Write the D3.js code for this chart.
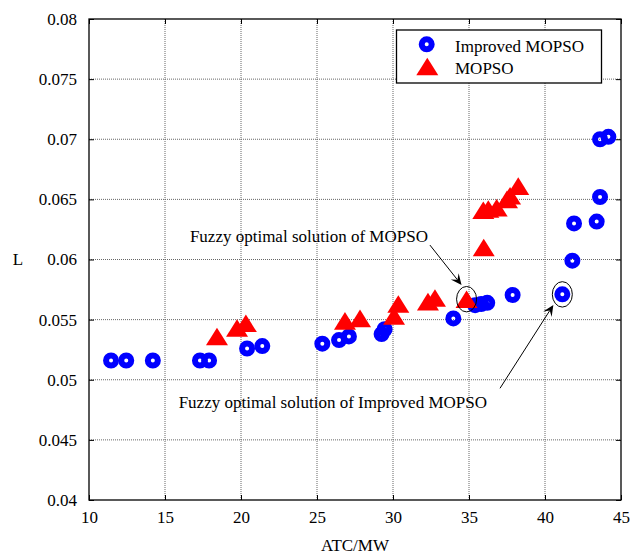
<!DOCTYPE html>
<html><head><meta charset="utf-8">
<script src="https://cdn.jsdelivr.net/npm/d3@7"></script>
<style>
html,body{margin:0;padding:0;background:#fff;}
text{font-family:"Liberation Serif","Times New Roman",serif;fill:#000;}
</style></head>
<body><svg id="c" width="630" height="558"></svg>
<script>
// ---- data ----
const improvedX = [11.45,12.45,14.2,17.3,17.9,20.4,21.4,25.35,26.45,27.1,29.25,29.45,33.97,35.4,35.8,36.2,37.87,41.14,41.8,41.91,43.4,43.62,43.62,44.17];
const improvedY = [0.0516,0.0516,0.0516,0.0516,0.0516,0.0526,0.0528,0.0530,0.0533,0.0536,0.0538,0.0542,0.0551,0.0562,0.0563,0.0564,0.05705,0.0571,0.0599,0.0630,0.06315,0.0652,0.0700,0.0702];
const mopsoX = [18.42,19.74,20.32,26.84,27.83,30.07,30.35,32.3,32.76,34.84,35.97,35.94,36.27,36.82,37.5,37.7,38.24];
const mopsoY = [0.0536,0.0543,0.0547,0.0549,0.0551,0.0553,0.0563,0.0565,0.0568,0.0567,0.0610,0.0641,0.0642,0.0643,0.0650,0.0653,0.0661];
const xTicks = [10,15,20,25,30,35,40,45];
const yTicks = [0.04,0.045,0.05,0.055,0.06,0.065,0.07,0.075,0.08];
const seriesNames = ["Improved MOPSO","MOPSO"];
const xLabel = "ATC/MW", yLabel = "L";
// annotations (data units): point circled, arrow tail, arrow tip
const annMopso = {text:"Fuzzy optimal solution of MOPSO", px:34.84, py:0.0567, tx:32.43, ty:0.0612, hx:34.51, hy:0.05788};
const annImp = {text:"Fuzzy optimal solution of Improved MOPSO", px:41.14, py:0.0571, tx:37.04, ty:0.04929, hx:40.55, hy:0.05622};

// ---- layout ----
const L=89, T=19, W=532, H=481;
const svg = d3.select("#c");
const x = d3.scaleLinear().domain([10,45]).range([L, L+W]);
const y = d3.scaleLinear().domain([0.04,0.08]).range([T+H, T]);
const FS = 17;

// grid
const grid = svg.append("g");
grid.selectAll("line.gx").data(xTicks.slice(1,-1)).join("line")
  .attr("x1",d=>x(d)).attr("x2",d=>x(d)).attr("y1",T).attr("y2",T+H)
  .attr("stroke","#666").attr("stroke-width",1).attr("stroke-dasharray","1,1");
grid.selectAll("line.gy").data(yTicks.slice(1,-1)).join("line")
  .attr("y1",d=>y(d)).attr("y2",d=>y(d)).attr("x1",L).attr("x2",L+W)
  .attr("stroke","#666").attr("stroke-width",1).attr("stroke-dasharray","1,1");

// axes
const fmtY = d=>d3.format(".3~f")(d);
function styleAxis(g){ g.select(".domain").remove(); g.selectAll(".tick line").attr("stroke","#000"); g.selectAll("text").style("font-size",FS+"px").attr("font-family","Liberation Serif"); }
svg.append("g").attr("transform",`translate(0,${T+H})`)
  .call(d3.axisBottom(x).tickValues(xTicks).tickSize(-5).tickPadding(11).tickFormat(d3.format("d")))
  .call(styleAxis);
svg.append("g").attr("transform",`translate(0,${T})`)
  .call(d3.axisTop(x).tickValues(xTicks).tickSize(-5).tickFormat(""))
  .call(styleAxis);
svg.append("g").attr("transform",`translate(${L},0)`)
  .call(d3.axisLeft(y).tickValues(yTicks).tickSize(-5).tickPadding(12).tickFormat(fmtY))
  .call(styleAxis);
svg.append("g").attr("transform",`translate(${L+W},0)`)
  .call(d3.axisRight(y).tickValues(yTicks).tickSize(-5).tickFormat(""))
  .call(styleAxis);
svg.append("rect").attr("x",L).attr("y",T).attr("width",W).attr("height",H)
  .attr("fill","none").attr("stroke","#000").attr("stroke-width",1.3);

// markers
const triType = {draw(ctx, size){ const w=11, h=8.8; ctx.moveTo(0,-h); ctx.lineTo(w,h); ctx.lineTo(-w,h); ctx.closePath(); }};
const tri = d3.symbol().type(triType);
function drawCircle(g,cx,cy){ g.append("circle").attr("cx",cx).attr("cy",cy).attr("r",5).attr("fill","none").attr("stroke","#0000ff").attr("stroke-width",6); }
function drawTri(g,cx,cy){ g.append("path").attr("d",tri).attr("transform",`translate(${cx},${cy})`).attr("fill","#ff0000"); }

const gi = svg.append("g");
improvedX.forEach((v,i)=>drawCircle(gi, x(v), y(improvedY[i])));
const gm = svg.append("g");
mopsoX.forEach((v,i)=>drawTri(gm, x(v), y(mopsoY[i])));

// annotations
function annot(a, textAnchorX, textBaseY){
  svg.append("ellipse").attr("cx",x(a.px)).attr("cy",y(a.py)).attr("rx",10).attr("ry",12.7)
    .attr("fill","none").attr("stroke","#000").attr("stroke-width",1);
  const x1=x(a.tx), y1=y(a.ty), x2=x(a.hx), y2=y(a.hy);
  const ang=Math.atan2(y2-y1,x2-x1), len=11, wid=5;
  const bx=x2-len*Math.cos(ang), by=y2-len*Math.sin(ang);
  const nx=-Math.sin(ang), ny=Math.cos(ang);
  const ix=x2-len*0.6*Math.cos(ang), iy=y2-len*0.6*Math.sin(ang);
  svg.append("line").attr("x1",x1).attr("y1",y1).attr("x2",ix).attr("y2",iy).attr("stroke","#000").attr("stroke-width",1);
  svg.append("path").attr("d",`M${x2},${y2}L${bx+nx*wid},${by+ny*wid}L${ix},${iy}L${bx-nx*wid},${by-ny*wid}Z`).attr("fill","#000");
  svg.append("text").attr("x",textAnchorX).attr("y",textBaseY).attr("text-anchor","end").style("font-size",FS+"px").text(a.text);
}
annot(annMopso, x(annMopso.tx)-2, y(annMopso.ty)-3);
annot(annImp, x(annImp.tx)-13, y(annImp.ty)+20);

// legend
const lg = svg.append("g");
lg.append("rect").attr("x",396.5).attr("y",30).attr("width",205).attr("height",53).attr("fill","#fff").attr("stroke","#000").attr("stroke-width",1.3);
drawCircle(lg, 426.7, 44.3);
drawTri(lg, 427.3, 66.5);
lg.append("text").attr("x",455).attr("y",51.5).style("font-size",FS+"px").text(seriesNames[0]);
lg.append("text").attr("x",455).attr("y",74).style("font-size",FS+"px").text(seriesNames[1]);

// axis titles
svg.append("text").attr("x",L+W/2).attr("y",551).attr("text-anchor","middle").style("font-size",FS+"px").text(xLabel);
svg.append("text").attr("x",18).attr("y",265).attr("text-anchor","middle").style("font-size",FS+"px").text(yLabel);
</script></body></html>
